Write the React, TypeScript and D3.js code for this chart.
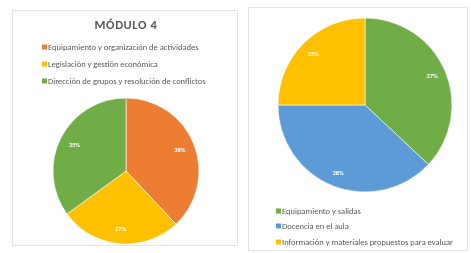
import React, { useEffect, useRef } from 'react';
import * as d3 from 'd3';

// left chart
const leftTitle = 'MÓDULO 4';
const leftLabels = [
  'Equipamiento y organización de actividades',
  'Legislación y gestión económica',
  'Dirección de grupos y resolución de conflictos',
];
const leftValues = [38, 27, 35];
const leftColors = ['#ED7D31', '#FFC000', '#70AD47'];

// right chart
const rightLabels = [
  'Equipamiento y salidas',
  'Docencia en el aula',
  'Información y materiales propuestos para evaluar',
];
const rightValues = [37, 38, 25];
const rightColors = ['#70AD47', '#5B9BD5', '#FFC000'];

export default function App() {
  const svgRef = useRef<SVGSVGElement>(null);

  useEffect(() => {
    const svg = d3.select(svgRef.current);
    svg.selectAll('*').remove();

    const defs = svg.append('defs');
    defs.append('filter').attr('id', 'soft')
      .append('feGaussianBlur').attr('stdDeviation', 0.5);

    const root = svg.append('g').attr('filter', 'url(#soft)');

    // panel frames
    root.append('rect').attr('x', 12.5).attr('y', 10.5).attr('width', 225).attr('height', 235)
      .attr('fill', '#fff').attr('stroke', '#e3e3e3');
    root.append('rect').attr('x', 248.5).attr('y', 7.5).attr('width', 219).attr('height', 243)
      .attr('fill', '#fff').attr('stroke', '#e3e3e3');

    const pie = d3.pie<number>().sort(null).value(d => d);

    function drawPie(g, values, colors, cx, cy, r, labelR) {
      const arcs = pie(values);
      const arc = d3.arc<d3.PieArcDatum<number>>().innerRadius(0).outerRadius(r);
      const labelArc = d3.arc<d3.PieArcDatum<number>>().innerRadius(labelR).outerRadius(labelR);
      const pg = g.append('g').attr('transform', `translate(${cx},${cy})`);
      pg.selectAll('path').data(arcs).enter().append('path')
        .attr('d', arc)
        .attr('fill', (d, i) => colors[i])
        .attr('stroke', '#fff')
        .attr('stroke-width', 0.6);
      pg.selectAll('text').data(arcs).enter().append('text')
        .attr('transform', d => `translate(${labelArc.centroid(d)})`)
        .attr('text-anchor', 'middle')
        .attr('dy', '0.35em')
        .attr('font-family', 'Calibri, Carlito, "Liberation Sans", sans-serif')
        .attr('font-size', 6.5)
        .attr('font-weight', 'bold')
        .attr('fill', '#fff')
        .text(d => `${d.data}%`);
    }

    function drawLegend(g, labels, colors, x, ys) {
      labels.forEach((t, i) => {
        g.append('rect').attr('x', x).attr('y', ys[i] - 2.5).attr('width', 5).attr('height', 5)
          .attr('fill', colors[i]);
        g.append('text').attr('x', x + 6).attr('y', ys[i]).attr('dy', '0.35em')
          .attr('font-family', 'Calibri, Carlito, "Liberation Sans", sans-serif')
          .attr('font-size', 8.5)
          .attr('fill', '#595959')
          .text(t);
      });
    }

    // left
    root.append('text').attr('x', 126).attr('y', 25).attr('dy', '0.35em')
      .attr('text-anchor', 'middle')
      .attr('font-family', 'Calibri, Carlito, "Liberation Sans", sans-serif')
      .attr('font-size', 12.5).attr('font-weight', 'bold').attr('letter-spacing', 0.6)
      .attr('fill', '#595959').text(leftTitle);
    drawLegend(root, leftLabels, leftColors, 42, [47, 64, 81]);
    drawPie(root, leftValues, leftColors, 126, 171, 73, 58);

    // right
    drawPie(root, rightValues, rightColors, 365, 105, 87, 73);
    drawLegend(root, rightLabels, rightColors, 276, [211, 226, 242]);
  }, []);

  return (
    <svg ref={svgRef} width={471} height={253}
      style={{ position: 'absolute', left: 0, top: 0, background: '#fff' }} />
  );
}
